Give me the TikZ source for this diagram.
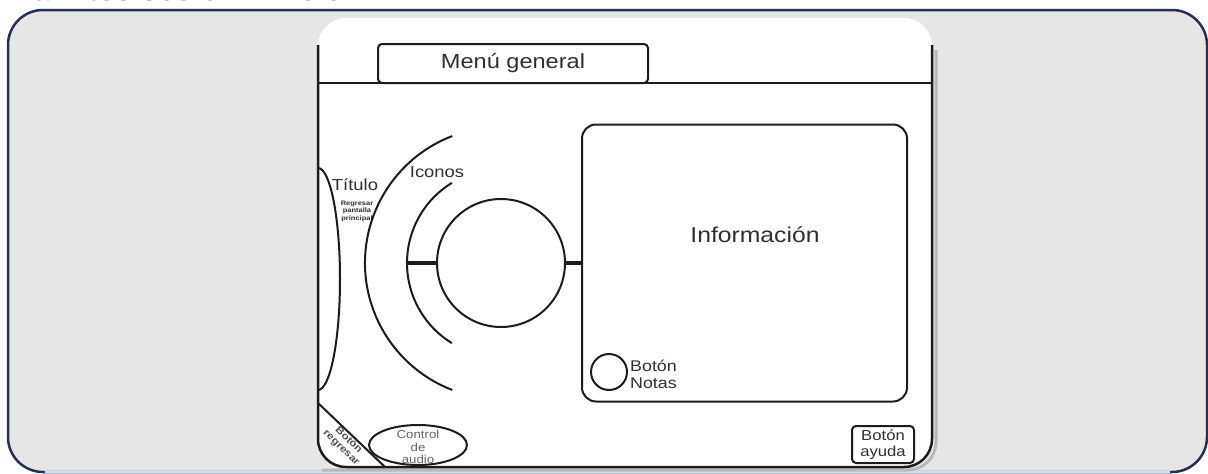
\documentclass[tikz,border=0pt]{standalone}
\usepackage{fontspec}
\setmainfont{Liberation Sans}[FakeStretch=1.15]
\usetikzlibrary{shapes.geometric}
\definecolor{panelfill}{RGB}{230,230,230}
\definecolor{panelnavy}{RGB}{35,50,82}
\definecolor{panelblue}{RGB}{205,225,242}
\definecolor{ink}{RGB}{28,28,28}
\definecolor{txt}{RGB}{48,48,48}

\begin{document}
\begin{tikzpicture}[x=1pt,y=1pt,
  line/.style={draw=ink, line width=2pt},
  link/.style={draw=ink, line width=3.5pt},
  lbl/.style={text=txt, inner sep=0pt},
  boxnode/.style={draw=ink, line width=2pt, inner sep=0pt},
]
\useasboundingbox (0,0) rectangle (1208,-474);
\clip (0,0) rectangle (1208,-474);

% heading above the panel
\node[anchor=base west, inner sep=0pt, font=\fontsize{27}{30}\selectfont\bfseries\itshape] (heading) at (4,0) {Trámites sesión 2 4 8 8};

% textured panel
\draw[fill=panelfill, draw=panelnavy, line width=2.5pt, rounded corners=35] (8,-10) rectangle (1207,-472);
\draw[panelblue, line width=2pt] (45,-471.5) -- (1170,-471.5);

% screen
\fill[white, rounded corners=28] (318,-18) rectangle (932,-467);
\draw[gray!55, line width=3pt, rounded corners=28] (936,-50) -- (936,-470) -- (322,-470);
\draw[ink, line width=2.5pt, rounded corners=28] (318,-45) -- (318,-467) -- (932,-467) -- (932,-45);

% header bar with tab
\draw[line] (318,-83) -- (932,-83);
\node[boxnode, fill=white, rounded corners=4, minimum width=270, minimum height=39] (menu) at (513,-63.5) {};
\node[lbl, font=\fontsize{20.5}{22}\selectfont] (menutxt) at (513,-63) {Menú general};

% title band
\draw[line] (318,-168) arc[start angle=90, end angle=-90, x radius=22, y radius=111];
\node[lbl, font=\fontsize{16}{18}\selectfont] (titulo) at (355,-185) {Título};
\node[lbl, font=\fontsize{6.5}{7.5}\selectfont\bfseries, align=center] (regresar) at (357,-211) {Regresar\\pantalla\\principal};

% icon carousel
\node[circle, boxnode, minimum size=128] (icons) at (501,-263) {};
\draw[line] (icons.center) ++(121.5:94) arc[start angle=121.5, end angle=238.5, radius=94];
\draw[line] (icons.center) ++(111:136) arc[start angle=111, end angle=249, radius=136];
\coordinate (arcmid) at (407,-263);
\node[lbl, font=\fontsize{16}{18}\selectfont] (iconos) at (437,-172) {Iconos};

% information area
\node[boxnode, rounded corners=14, minimum width=325, minimum height=277] (info) at (744.5,-263) {};
\node[lbl, font=\fontsize{21.5}{23}\selectfont] (infotxt) at (755,-235) {Información};

\draw[link] (icons.west) -- (arcmid);
\draw[link] (icons.east) -- (info.west);

% notes button
\node[circle, boxnode, minimum size=36] (notas) at (609,-372) {};
\node[lbl, anchor=west, align=left, font=\fontsize{15.5}{17}\selectfont] (notastxt) at (630,-374) {Botón\\Notas};

% help button
\node[boxnode, rounded corners=4, minimum width=62, minimum height=37, align=center, text=txt, font=\fontsize{14.5}{16}\selectfont] (ayuda) at (883,-444.5) {Botón\\ayuda};

% audio control
\node[ellipse, boxnode, minimum width=98, minimum height=40] (audio) at (418,-445) {};
\node[lbl, align=center, text=txt!75, font=\fontsize{11.5}{12.5}\selectfont] (audiotxt) at (418,-447) {Control\\de\\audio};

% back button in the corner
\coordinate (backA) at (318,-403);
\coordinate (backB) at (385,-467);
\draw[line] (backA) -- (backB);
\node[lbl, rotate=-44, align=center, text=txt!85, font=\fontsize{10}{10.5}\selectfont\bfseries] (backtxt) at (345,-444) {Botón\\regresar};
\end{tikzpicture}
\end{document}
